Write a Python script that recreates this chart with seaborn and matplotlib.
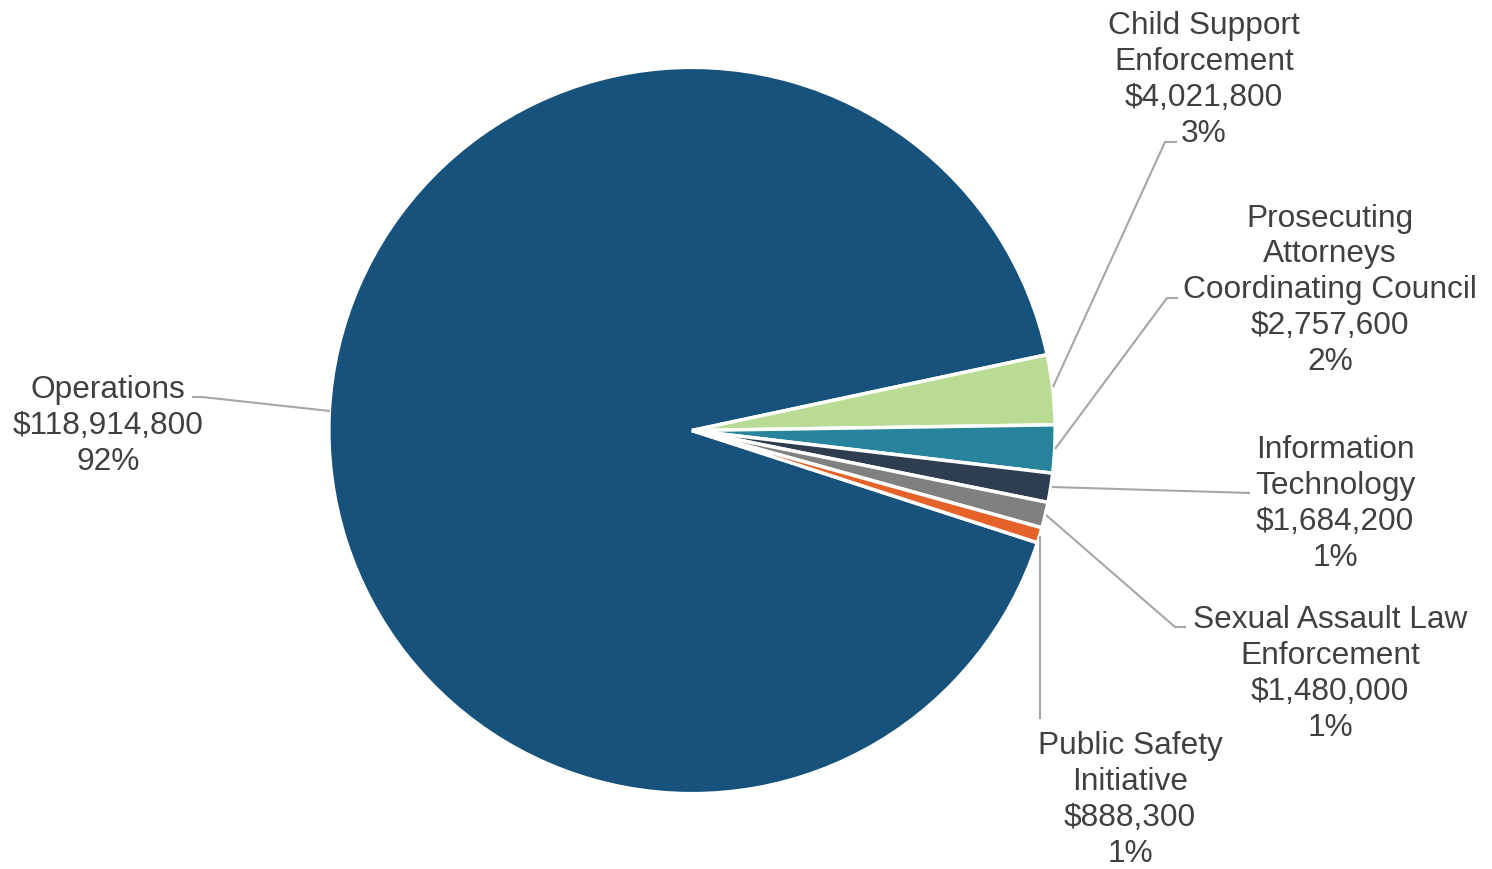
import matplotlib
matplotlib.use("Agg")
import matplotlib.pyplot as plt
import seaborn as sns

categories = ["Operations", "Child Support\nEnforcement", "Prosecuting\nAttorneys\nCoordinating Council",
              "Information\nTechnology", "Sexual Assault Law\nEnforcement", "Public Safety\nInitiative"]
values = [118914800, 4021800, 2757600, 1684200, 1480000, 888300]
percent_labels = ["92%", "3%", "2%", "1%", "1%", "1%"]
colors = ["#17527D", "#BADB93", "#27849C", "#2E3D50", "#808080", "#E5632A"]

sns.set_theme(style="white")
plt.rcParams['font.family'] = ['Liberation Sans', 'DejaVu Sans']

W, H = 1492, 870
R = 361.0
CX, CY = 692.0, 431.5

fig = plt.figure(figsize=(W / 100, H / 100), dpi=100)
ax = fig.add_axes([0, 0, 1, 1])

palette = sns.color_palette(colors)
ax.pie(values, colors=palette, startangle=-18, counterclock=False, radius=1.006,
       wedgeprops=dict(edgecolor="white", linewidth=2.5))

ax.set_xlim(-CX / R, (W - CX) / R)
ax.set_ylim(-(H - CY) / R, CY / R)
ax.set_aspect("equal", adjustable="datalim")
ax.axis("off")

def P(x, y):
    return ((x - CX) / R, (CY - y) / R)

# label text centers (pixels) and leader polylines (pixels)
label_pos = [(108, 426), (1204, 80), (1330, 290), (1335, 504), (1330, 674), (1130, 800)]
leaders = [
    [(330, 412), (202, 398), (192, 398)],
    [(1053, 388), (1165, 143), (1177, 143)],
    [(1055, 450), (1167, 299), (1178, 299)],
    [(1052, 488), (1250, 494)],
    [(1046, 516), (1175, 628), (1186, 628)],
    [(1040, 537), (1040, 720)],
]

for name, v, pct, (lx, ly), pts in zip(categories, values, percent_labels, label_pos, leaders):
    txt = f"{name}\n${v:,}\n{pct}"
    x, y = P(lx, ly)
    ax.text(x, y, txt, ha="center", va="center", fontsize=22.8, color="#404040",
            linespacing=1.25)
    xs = [P(px, py)[0] for px, py in pts]
    ys = [P(px, py)[1] for px, py in pts]
    ax.plot(xs, ys, color="#A6A6A6", linewidth=1.5, solid_capstyle="butt")

fig.savefig("out.png", dpi=100)
